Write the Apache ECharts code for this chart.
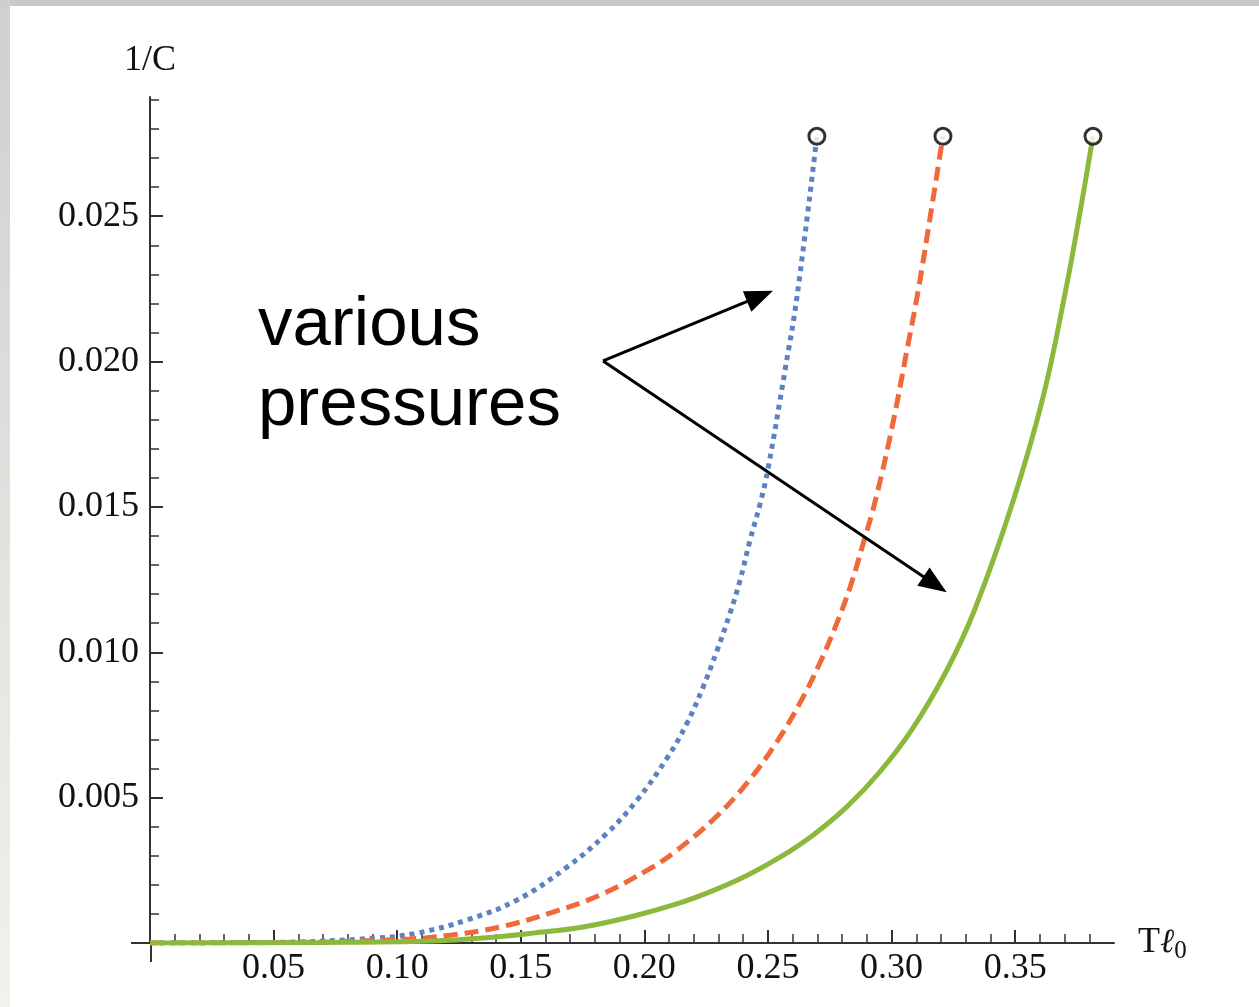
<!DOCTYPE html>
<html>
<head>
<meta charset="utf-8">
<script src="https://cdn.jsdelivr.net/npm/echarts@6/dist/echarts.min.js"></script>
<style>
  html, body { margin: 0; padding: 0; background: #fff; }
  #chart { width: 1259px; height: 1007px; }
</style>
</head>
<body>
<div id="chart"></div>
<script>
// tick labels
const xMajor = [0.05, 0.10, 0.15, 0.20, 0.25, 0.30, 0.35];
const yMajor = [0.005, 0.010, 0.015, 0.020, 0.025];

// curves (T l0 , 1/C)
const blueX = [0, 0.05, 0.0918, 0.1080, 0.1282, 0.1485, 0.1687, 0.1849, 0.1970, 0.2091, 0.2172, 0.2237, 0.2294, 0.2346, 0.2387, 0.2427, 0.2468, 0.2500, 0.2569, 0.2617, 0.2698];
const blueY = [0, 0.00002, 0.00017, 0.00034, 0.00079, 0.00148, 0.00261, 0.00378, 0.00491, 0.00635, 0.00755, 0.00879, 0.01006, 0.01133, 0.01247, 0.01384, 0.01510, 0.01630, 0.01970, 0.02220, 0.02775];

const redX = [0, 0.06, 0.1052, 0.1214, 0.1416, 0.1618, 0.1820, 0.2023, 0.2132, 0.2278, 0.2415, 0.2536, 0.2629, 0.2710, 0.2779, 0.2832, 0.2884, 0.2937, 0.3006, 0.3058, 0.3107, 0.3155, 0.3208];
const redY = [0, 0.00002, 0.00014, 0.00027, 0.00055, 0.00103, 0.00165, 0.00256, 0.00319, 0.00424, 0.00550, 0.00692, 0.00825, 0.00963, 0.01101, 0.01223, 0.01370, 0.01530, 0.01790, 0.02020, 0.02240, 0.02490, 0.02775];

const greenX = [0, 0.07, 0.1145, 0.1347, 0.1549, 0.1752, 0.1954, 0.2144, 0.2278, 0.2415, 0.2549, 0.2682, 0.2820, 0.2953, 0.3087, 0.3224, 0.3337, 0.3490, 0.3612, 0.3701, 0.3762, 0.3815];
const greenY = [0, 0.00002, 0.00007, 0.00017, 0.00034, 0.00055, 0.00092, 0.00138, 0.00180, 0.00232, 0.00295, 0.00371, 0.00469, 0.00589, 0.00740, 0.00939, 0.01148, 0.01515, 0.01874, 0.02230, 0.02511, 0.02775];

// annotation arrows: common start, two heads
const arrowStart = [0.1833, 0.02002];
const arrowEnds = [[0.2468, 0.02225], [0.3176, 0.01233]];

const zip = (xs, ys) => xs.map((x, i) => [x, ys[i]]);
const last = (xs, ys) => [xs[xs.length - 1], ys[ys.length - 1]];

const xMinor = [];
for (let i = 1; i <= 38; i++) xMinor.push(+(i * 0.01).toFixed(2));
const yMinor = [];
for (let i = 1; i <= 29; i++) yMinor.push(+(i * 0.001).toFixed(3));

const serif = 'Liberation Serif';
const axisCol = '#333';

const chart = echarts.init(document.getElementById('chart'));
chart.setOption({
    backgroundColor: '#ffffff',
    animation: false,
    graphic: [
        { type: 'rect', left: 0, top: 0, shape: { width: 1259, height: 6 }, style: { fill: '#c9c9c9' } },
        {
            type: 'rect', left: 0, top: 0, shape: { width: 10, height: 1007 },
            style: {
                fill: new echarts.graphic.LinearGradient(0, 0, 0, 1, [
                    { offset: 0, color: '#cfcfcf' },
                    { offset: 1, color: '#f2f2ec' }
                ])
            }
        },
        // small axis overshoot past the origin, as in the original
        { type: 'line', shape: { x1: 131, y1: 943, x2: 150, y2: 943 }, style: { stroke: axisCol, lineWidth: 2 } },
        { type: 'line', shape: { x1: 151, y1: 943, x2: 151, y2: 962 }, style: { stroke: axisCol, lineWidth: 2 } },
        {
            type: 'text', left: 258, top: 286,
            style: {
                text: 'various\npressures',
                font: '69px "Liberation Sans"',
                lineHeight: 80,
                fill: '#000'
            }
        }
    ],
    grid: { left: 150, right: 145, top: 97, bottom: 64, containLabel: false },
    xAxis: [{
        type: 'value', min: 0, max: 0.39, position: 'bottom',
        name: '{t|T}{l|ℓ}{s|0}',
        nameLocation: 'end', nameGap: 24,
        nameTextStyle: {
            rich: {
                t: { fontFamily: serif, fontSize: 36, color: '#111' },
                l: { fontFamily: serif, fontSize: 34, fontStyle: 'italic', color: '#111' },
                s: { fontFamily: serif, fontSize: 25, color: '#111', padding: [16, 0, 0, 0] }
            }
        },
        axisLine: { onZero: false, lineStyle: { color: axisCol, width: 2 } },
        axisTick: { inside: true, length: 13, customValues: xMajor, lineStyle: { color: axisCol, width: 2 } },
        axisLabel: {
            customValues: xMajor, margin: 8,
            fontFamily: serif, fontSize: 36, lineHeight: 36, color: '#111',
            formatter: v => v.toFixed(2)
        },
        splitLine: { show: false }
    }, {
        type: 'value', min: 0, max: 0.39, position: 'bottom',
        axisLine: { show: false },
        axisTick: { inside: true, length: 9, customValues: xMinor, lineStyle: { color: axisCol, width: 1.5 } },
        axisLabel: { show: false },
        splitLine: { show: false }
    }],
    yAxis: [{
        type: 'value', min: 0, max: 0.0291, position: 'left',
        name: '1/C',
        nameLocation: 'end', nameGap: 18,
        nameTextStyle: { fontFamily: serif, fontSize: 36, lineHeight: 36, color: '#111' },
        axisLine: { onZero: false, lineStyle: { color: axisCol, width: 2 } },
        axisTick: { inside: true, length: 13, customValues: yMajor, lineStyle: { color: axisCol, width: 2 } },
        axisLabel: {
            customValues: yMajor, margin: 11,
            fontFamily: serif, fontSize: 36, lineHeight: 36, color: '#111',
            formatter: v => v.toFixed(3)
        },
        splitLine: { show: false }
    }, {
        type: 'value', min: 0, max: 0.0291, position: 'left',
        axisLine: { show: false },
        axisTick: { inside: true, length: 9, customValues: yMinor, lineStyle: { color: axisCol, width: 1.5 } },
        axisLabel: { show: false },
        splitLine: { show: false }
    }],
    series: [{
        name: 'blue', type: 'line', smooth: 0.4, showSymbol: false,
        data: zip(blueX, blueY),
        lineStyle: { color: '#5b82c3', width: 5, type: [5, 5], cap: 'butt' },
        markLine: {
            silent: true,
            symbol: ['none', 'triangle'],
            symbolSize: [22, 28],
            label: { show: false },
            lineStyle: { color: '#000', width: 3, type: 'solid' },
            itemStyle: { color: '#000' },
            data: arrowEnds.map(e => [{ coord: arrowStart }, { coord: e }])
        },
        z: 3
    }, {
        name: 'red', type: 'line', smooth: 0.4, showSymbol: false,
        data: zip(redX, redY),
        lineStyle: { color: '#f0693a', width: 5, type: [14, 7], cap: 'butt' },
        z: 3
    }, {
        name: 'green', type: 'line', smooth: 0.4, showSymbol: false,
        data: zip(greenX, greenY),
        lineStyle: { color: '#8cb83c', width: 5 },
        z: 3
    }, {
        name: 'ends', type: 'scatter',
        data: [last(blueX, blueY), last(redX, redY), last(greenX, greenY)],
        symbol: 'circle', symbolSize: 16,
        itemStyle: { color: '#fff', borderColor: '#000', borderWidth: 3 },
        z: 5
    }]
});
</script>
</body>
</html>
